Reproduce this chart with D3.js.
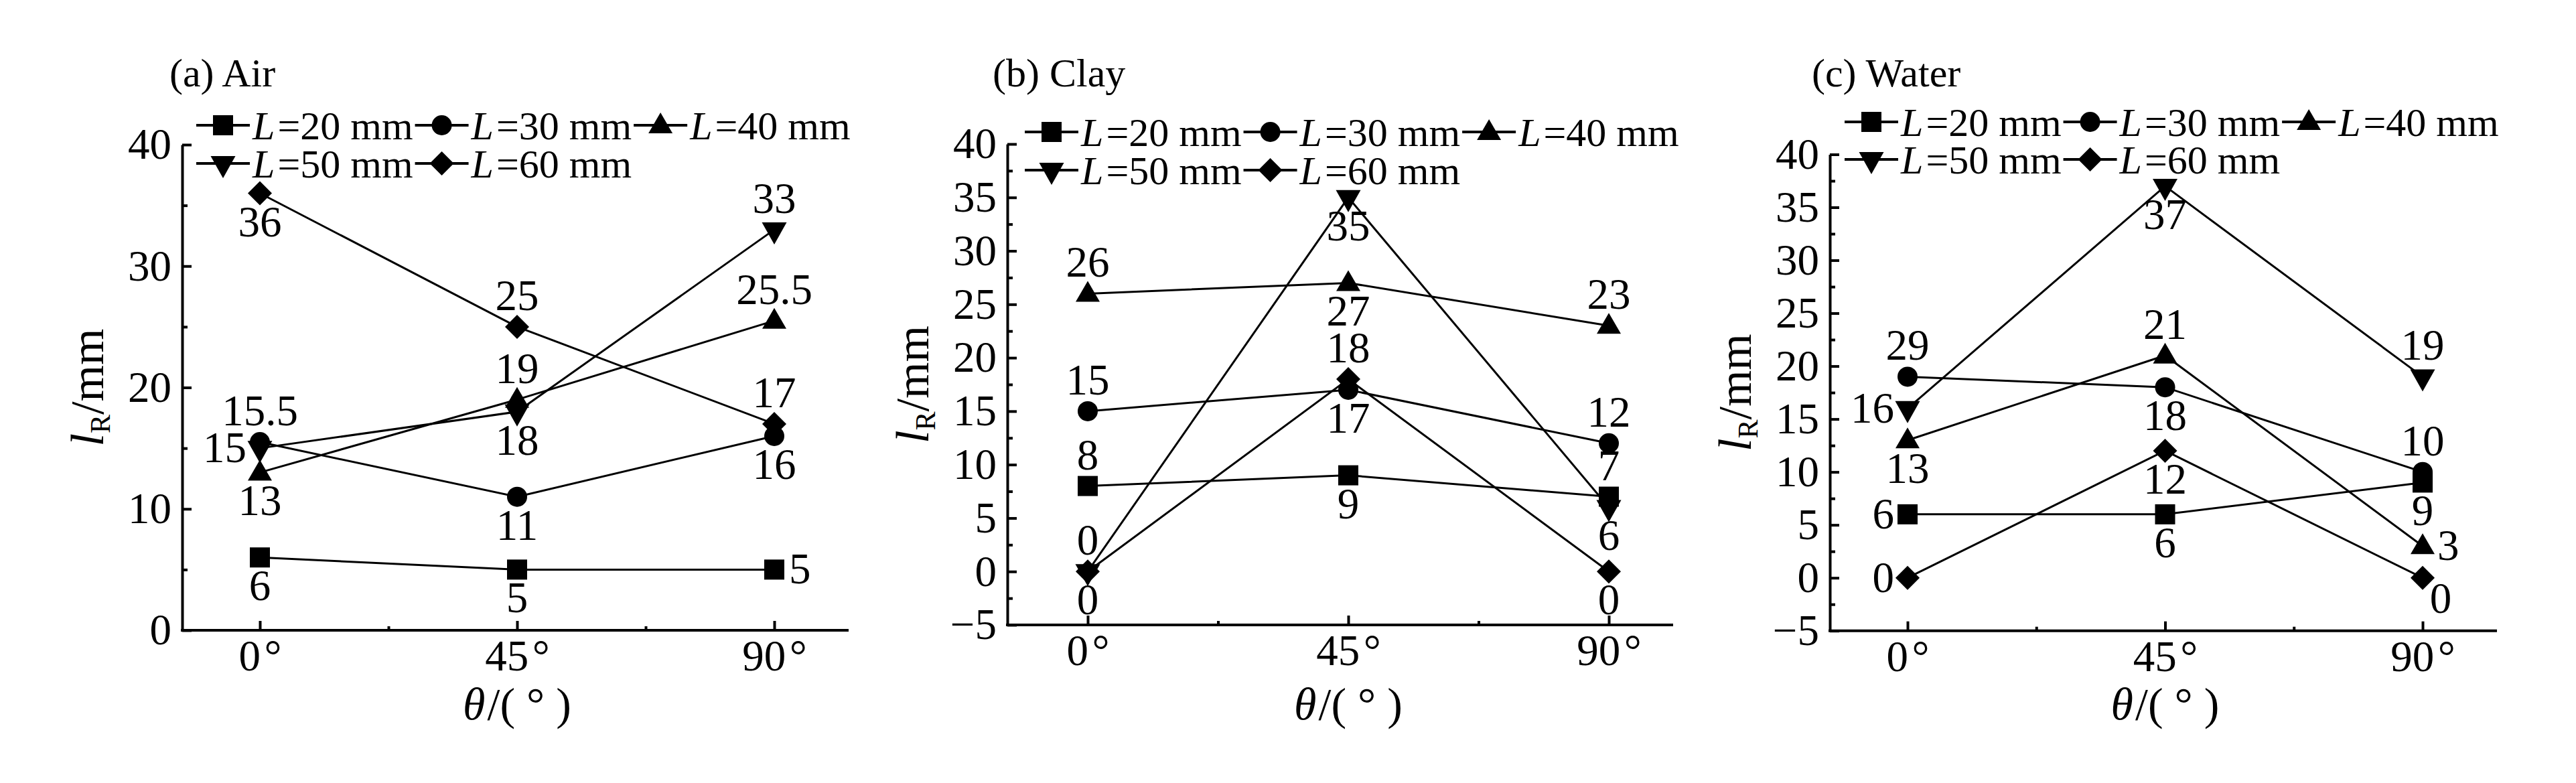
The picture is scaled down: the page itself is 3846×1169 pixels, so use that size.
<!DOCTYPE html>
<html><head><meta charset="utf-8">
<script src="https://cdn.jsdelivr.net/npm/d3@7"></script>
<style>
body{margin:0;background:#fff}
text{font-family:"Liberation Serif","Times New Roman",serif;fill:#000}
</style>
</head><body>
<svg id="chart" width="3846" height="1169"></svg>
<script>
// ---------- data ----------
const angles = [0, 45, 90];
const angleTickLabels = ["0°", "45°", "90°"];
const minorAngles = [22.5, 67.5];
const lengths = [20, 30, 40, 50, 60];
const panelTitles = ["(a) Air", "(b) Clay", "(c) Water"];

// values per series (L=20..60) at 0°, 45°, 90°
const airValues = [[6, 5, 5], [15.5, 11, 16], [13, 19, 25.5], [15, 18, 33], [36, 25, 17]];
const clayValues = [[8, 9, 7], [15, 17, 12], [26, 27, 23], [0, 35, 6], [0, 18, 0]];
const waterValues = [[6, 6, 9], [19, 18, 10], [13, 21, 3], [16, 37, 19], [0, 12, 0]];

// printed data labels
const airLabels = [["6", "5", "5"], ["15.5", "11", "16"], ["13", "19", "25.5"], ["15", "18", "33"], ["36", "25", "17"]];
const clayLabels = [["8", "9", "7"], ["15", "17", "12"], ["26", "27", "23"], ["0", "35", "6"], ["0", "18", "0"]];
const waterLabels = [["6", "6", "9"], ["29", "18", "10"], ["13", "21", "3"], ["16", "37", "19"], ["0", "12", "0"]];

// label placement: a=above b=below l=left r=right br=below-right
const airPlace = [["b", "b", "r"], ["a", "b", "b"], ["b", "a", "a"], ["l", "b", "a"], ["b", "a", "a"]];
const clayPlace = [["a", "b", "a"], ["a", "b", "a"], ["a", "b", "a"], ["a", "b", "b"], ["b", "a", "b"]];
const waterPlace = [["l", "b", "b"], ["a", "b", "a"], ["b", "a", "r"], ["l", "b", "a"], ["l", "b", "br"]];

const airYTicks = [0, 10, 20, 30, 40];
const airYMinor = [5, 15, 25, 35];
const soilYTicks = [-5, 0, 5, 10, 15, 20, 25, 30, 35, 40];
const soilYMinor = [-2.5, 2.5, 7.5, 12.5, 17.5, 22.5, 27.5, 32.5, 37.5];

// ---------- layout ----------
const panels = [
  {title: panelTitles[0], values: airValues, labels: airLabels, place: airPlace, yTicks: airYTicks, yMinor: airYMinor,
   yDomain: [0, 40], left: 272, right: 1267, top: 216, bottom: 941, x0: 388, x90: 1156,
   legendX: 293, legendY: [187, 244], titleX: 253},
  {title: panelTitles[1], values: clayValues, labels: clayLabels, place: clayPlace, yTicks: soilYTicks, yMinor: soilYMinor,
   yDomain: [-5, 40], left: 1504, right: 2498, top: 215, bottom: 933, x0: 1624, x90: 2402,
   legendX: 1530, legendY: [197, 254], titleX: 1482},
  {title: panelTitles[2], values: waterValues, labels: waterLabels, place: waterPlace, yTicks: soilYTicks, yMinor: soilYMinor,
   yDomain: [-5, 40], left: 2732, right: 3728, top: 230.5, bottom: 941.7, x0: 2848, x90: 3617,
   legendX: 2754, legendY: [182, 238], titleX: 2705}
];

const svg = d3.select("#chart");
svg.append("rect").attr("width", 3846).attr("height", 1169).attr("fill", "#fff");

function markerPath(k) {
  const p = d3.path();
  if (k === 0) { p.rect(-15, -15, 30, 30); }
  else if (k === 1) { p.moveTo(15, 0); p.arc(0, 0, 15, 0, 2 * Math.PI); }
  else if (k === 2) { p.moveTo(0, -19); p.lineTo(18, 12); p.lineTo(-18, 12); p.closePath(); }
  else if (k === 3) { p.moveTo(-18.5, -11); p.lineTo(18.5, -11); p.lineTo(0, 22); p.closePath(); }
  else { p.moveTo(0, -18); p.lineTo(18, 0); p.lineTo(0, 18); p.lineTo(-18, 0); p.closePath(); }
  return p.toString();
}

function labelPos(code, px, py) {
  if (code === "a") return {x: px, y: py - 25, anchor: "middle"};
  if (code === "b") return {x: px, y: py + 64, anchor: "middle"};
  if (code === "l") return {x: px - 20, y: py + 21, anchor: "end"};
  if (code === "r") return {x: px + 22, y: py + 21, anchor: "start"};
  return {x: px + 27, y: py + 52, anchor: "middle"};
}

panels.forEach(P => {
  const g = svg.append("g");
  const x = d3.scaleLinear().domain([0, 90]).range([P.x0, P.x90]);
  const y = d3.scaleLinear().domain(P.yDomain).range([P.bottom, P.top]);

  // title
  g.append("text").attr("x", P.titleX).attr("y", 129).attr("font-size", 60).text(P.title);

  // y axis
  const yAx = g.append("g").attr("transform", `translate(${P.left},0)`)
    .call(d3.axisLeft(y).tickValues(P.yTicks).tickSize(-14).tickSizeOuter(0).tickPadding(16));
  yAx.select(".domain").attr("stroke-width", 4);
  yAx.selectAll(".tick line").attr("stroke-width", 4);
  yAx.selectAll(".tick text").attr("font-size", 65).attr("font-family", "Liberation Serif");
  g.append("g").attr("transform", `translate(${P.left},0)`)
    .call(d3.axisLeft(y).tickValues(P.yMinor).tickSize(-8).tickSizeOuter(0).tickFormat(""))
    .call(s => s.select(".domain").remove())
    .selectAll(".tick line").attr("stroke-width", 4);

  // x axis
  g.append("line").attr("x1", P.left - 2).attr("x2", P.right).attr("y1", P.bottom).attr("y2", P.bottom)
    .attr("stroke", "#000").attr("stroke-width", 4);
  const xAx = g.append("g").attr("transform", `translate(0,${P.bottom})`)
    .call(d3.axisBottom(x).tickValues(angles).tickSize(-14).tickPadding(14)
      .tickFormat((d, i) => angleTickLabels[i].replace("°", "\u200A°")));
  xAx.select(".domain").remove();
  xAx.selectAll(".tick line").attr("stroke-width", 4);
  xAx.selectAll(".tick text").attr("font-size", 65).attr("font-family", "Liberation Serif");
  g.append("g").attr("transform", `translate(0,${P.bottom})`)
    .call(d3.axisBottom(x).tickValues(minorAngles).tickSize(-6).tickFormat(""))
    .call(s => s.select(".domain").remove())
    .selectAll(".tick line").attr("stroke-width", 4);

  // axis titles
  const cy = (P.top + P.bottom) / 2;
  const yt = g.append("text").attr("transform", `translate(${P.left - 118},${cy}) rotate(-90)`)
    .attr("text-anchor", "middle").attr("font-size", 70);
  yt.append("tspan").attr("font-style", "italic").text("l");
  yt.append("tspan").attr("font-size", 42).attr("dy", 10).text("R");
  yt.append("tspan").attr("dy", -10).text("/mm");

  const xt = g.append("text").attr("x", x(45)).attr("y", 1074).attr("text-anchor", "middle").attr("font-size", 68);
  xt.append("tspan").attr("font-style", "italic").text("θ");
  xt.append("tspan").attr("dx", 3).text("/( ° )");

  // series lines
  const line = d3.line().x((d, i) => x(angles[i])).y(d => y(d));
  P.values.forEach(vals => {
    g.append("path").attr("d", line(vals)).attr("fill", "none").attr("stroke", "#000").attr("stroke-width", 3);
  });
  // markers
  P.values.forEach((vals, k) => {
    vals.forEach((v, i) => {
      g.append("path").attr("d", markerPath(k)).attr("transform", `translate(${x(angles[i])},${y(v)})`).attr("fill", "#000");
    });
  });
  // data labels
  P.values.forEach((vals, k) => {
    vals.forEach((v, i) => {
      const pos = labelPos(P.place[k][i], x(angles[i]), y(v));
      g.append("text").attr("x", pos.x).attr("y", pos.y).attr("text-anchor", pos.anchor)
        .attr("font-size", 65).text(P.labels[k][i]);
    });
  });

  // legend
  const rowX = [P.legendX, P.legendX];
  lengths.forEach((L, k) => {
    const row = k < 3 ? 0 : 1;
    const lx = rowX[row], ly = P.legendY[row];
    g.append("line").attr("x1", lx).attr("x2", lx + 80).attr("y1", ly).attr("y2", ly)
      .attr("stroke", "#000").attr("stroke-width", 4);
    g.append("path").attr("d", markerPath(k)).attr("transform", `translate(${lx + 40},${ly})`).attr("fill", "#000");
    const t = g.append("text").attr("x", lx + 84).attr("y", ly + 21).attr("font-size", 60);
    t.append("tspan").attr("font-style", "italic").text("L");
    t.append("tspan").attr("dx", 4).text("=" + L + " mm");
    const w = t.node().getComputedTextLength();
    rowX[row] = lx + 84 + w + 7;
  });
});
</script>
</body></html>
